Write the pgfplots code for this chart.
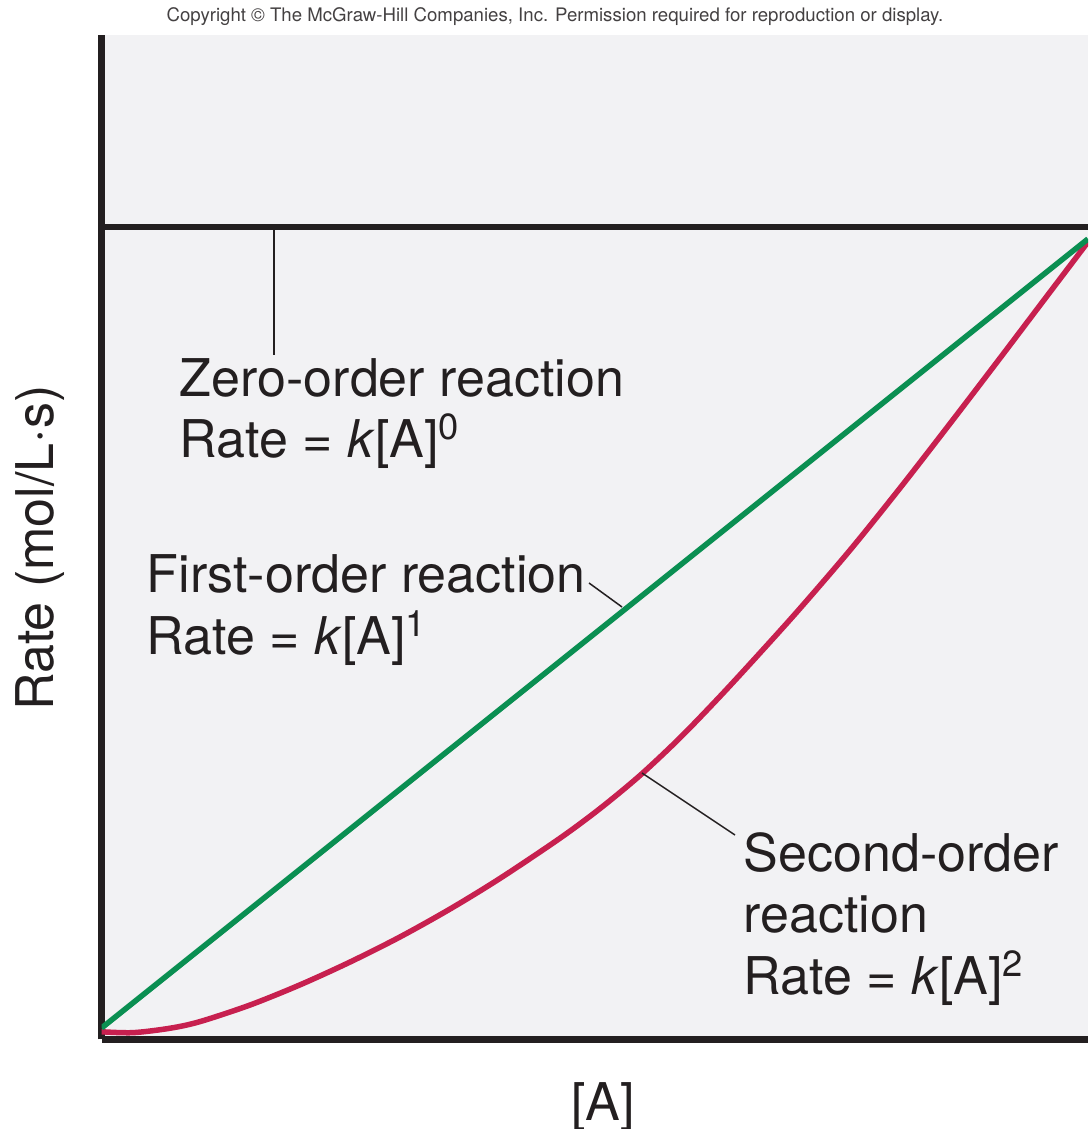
\documentclass[border=0pt]{standalone}
\usepackage{pgfplots}
\pgfplotsset{compat=1.18}
\usepackage{fontspec}
\setmainfont{TeX Gyre Heros}
\definecolor{bggray}{HTML}{F2F2F4}
\definecolor{spine}{HTML}{231F20}
\definecolor{kgreen}{HTML}{0A8F52}
\definecolor{kred}{HTML}{C7204F}
\newcommand{\lab}{\fontsize{14.8}{17}\selectfont}
\begin{document}
\begin{tikzpicture}[x=1mm,y=1mm]
\path[use as bounding box] (0,0) rectangle (108.8,112.9);
\begin{axis}[
  at={(10.15mm,8.95mm)}, anchor=south west,
  width=98.65mm, height=100.45mm, scale only axis,
  xmin=0, xmax=1, ymin=0, ymax=1,
  axis lines=left,
  axis line style={-, line width=0.7mm, spine},
  xtick=\empty, ytick=\empty,
  axis background/.style={fill=bggray},
]
\addplot[spine, line width=0.65mm] coordinates {(0,0.809) (1,0.809)};
\addplot[kred, line width=0.55mm, smooth, tension=0.5] coordinates {
(0,0.0077) (0.0319,0.0068) (0.0694,0.0112) (0.0998,0.0178) (0.1505,0.0343) (0.2012,0.0544)
(0.2519,0.0771) (0.3026,0.1021) (0.3533,0.1299) (0.4040,0.1604) (0.4648,0.2004)
(0.5053,0.2299) (0.5459,0.2629) (0.5864,0.3003) (0.6270,0.3416) (0.6675,0.3848)
(0.7081,0.4292) (0.7588,0.4872) (0.8094,0.5489) (0.8601,0.6131) (0.9108,0.6783)
(0.9554,0.7362) (1.0,0.7940)};
\addplot[kgreen, line width=0.55mm] coordinates {(0,0.0114) (1,0.797)};
\end{axis}
% leader lines
\draw[spine, line width=0.15mm] (27.4,90.1) -- (27.4,77.4);
\draw[spine, line width=0.15mm] (58.9,54.6) -- (62.2,52.2);
\draw[spine, line width=0.15mm] (64.2,35.6) -- (73.5,29.4);
% annotations
\node[anchor=base, inner sep=0, font=\fontsize{5.3}{6.4}\selectfont, text=spine!85] at (55.5,110.73) {Copyright © The McGraw-Hill Companies, Inc. Permission required for reproduction or display.};
\node[anchor=base west, inner sep=0, font=\lab, text=spine] at (17.9,73.2) {Zero-order reaction};
\node[anchor=base west, inner sep=0, font=\lab, text=spine] at (17.9,67.1) {Rate = \textit{k}[A]\textsuperscript{0}};
\node[anchor=base west, inner sep=0, font=\lab, text=spine] at (14.6,53.6) {First-order reaction};
\node[anchor=base west, inner sep=0, font=\lab, text=spine] at (14.6,47.4) {Rate = \textit{k}[A]\textsuperscript{1}};
\node[anchor=base west, inner sep=0, font=\lab, text=spine] at (74.3,25.7) {Second-order};
\node[anchor=base west, inner sep=0, font=\lab, text=spine] at (74.3,19.6) {reaction};
\node[anchor=base west, inner sep=0, font=\lab, text=spine] at (74.3,13.4) {Rate = \textit{k}[A]\textsuperscript{2}};
\node[anchor=base, inner sep=0, font=\lab, text=spine] at (60.3,0.8) {[A]};
\node[anchor=base, inner sep=0, rotate=90, font=\lab, text=spine] at (5.3,58.1) {Rate (mol/L·s)};
\end{tikzpicture}
\end{document}
